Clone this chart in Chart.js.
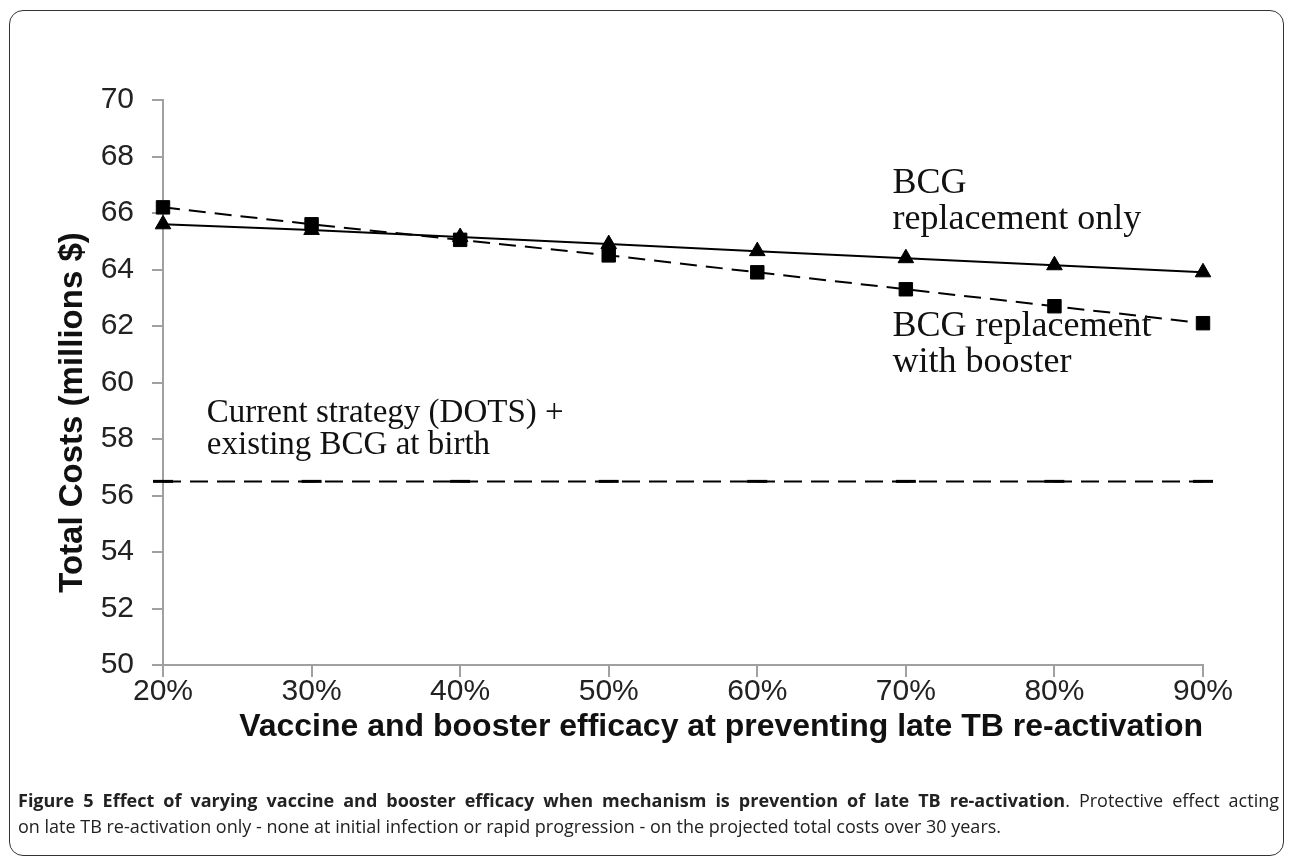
<!DOCTYPE html>
<html>
<head>
<meta charset="utf-8">
<script src="https://cdn.jsdelivr.net/npm/chart.js@4.4.1/dist/chart.umd.min.js"></script>
<style>
  html, body { margin: 0; padding: 0; background: #fff; }
  body { width: 1290px; height: 861px; position: relative; overflow: hidden; }
  #frame {
    position: absolute; left: 9px; top: 10px; width: 1275px; height: 846px;
    border: 1.5px solid #333; border-radius: 14px; box-sizing: border-box;
  }
  #chartBox { position: absolute; left: 0; top: 0; width: 1290px; height: 861px; }
  #caption {
    position: absolute; left: 18px; top: 787px; width: 1261px;
    font-family: "Open Sans", sans-serif; font-size: 18px; line-height: 26px; color: #222;
  }
  #caption .l1 { text-align: justify; text-align-last: justify; white-space: nowrap; }
  #caption b { font-weight: 700; }
</style>
</head>
<body>
<div id="frame"></div>
<div id="chartBox"><canvas id="costChart" width="1290" height="861"></canvas></div>
<div id="caption">
  <div class="l1"><b>Figure 5 Effect of varying vaccine and booster efficacy when mechanism is prevention of late TB re-activation</b>. Protective effect acting</div>
  <div>on late TB re-activation only - none at initial infection or rapid progression - on the projected total costs over 30 years.</div>
</div>
<script>
// Data
const efficacy = [20, 30, 40, 50, 60, 70, 80, 90];
const replacementOnly = [65.6, 65.4, 65.15, 64.9, 64.65, 64.4, 64.15, 63.9];
const replacementBooster = [66.2, 65.6, 65.05, 64.5, 63.9, 63.3, 62.7, 62.1];
const currentStrategy = [56.5, 56.5, 56.5, 56.5, 56.5, 56.5, 56.5, 56.5];
const yTicks = [50, 52, 54, 56, 58, 60, 62, 64, 66, 68, 70];

const toPoints = (vals) => vals.map((v, i) => ({ x: efficacy[i], y: v }));

// Text labels placed in data units
const notes = [
  { x: 69.1, y: 67.03, size: 36, text: 'BCG' },
  { x: 69.1, y: 65.78, size: 36, text: 'replacement only' },
  { x: 69.1, y: 61.97, size: 36, text: 'BCG replacement' },
  { x: 69.1, y: 60.72, size: 36, text: 'with booster' },
  { x: 22.95, y: 58.92, size: 33, text: 'Current strategy (DOTS) +' },
  { x: 22.95, y: 57.77, size: 33, text: 'existing BCG at birth' }
];

const notesPlugin = {
  id: 'notes',
  afterDatasetsDraw(chart) {
    const { ctx, chartArea, scales: { x, y } } = chart;
    ctx.save();
    ctx.fillStyle = '#111';
    ctx.textAlign = 'left';
    ctx.textBaseline = 'middle';
    notes.forEach(n => {
      ctx.font = n.size + 'px "Liberation Serif", "Times New Roman", serif';
      ctx.fillText(n.text, x.getPixelForValue(n.x), y.getPixelForValue(n.y));
    });
    // y axis title, sits a bit below the middle of the axis in the original
    ctx.font = 'bold 33px "Liberation Sans", Arial, sans-serif';
    ctx.textAlign = 'center';
    ctx.translate(chartArea.left - 90, (chartArea.top + chartArea.bottom) / 2 + 30);
    ctx.rotate(-Math.PI / 2);
    ctx.fillText('Total Costs (millions $)', 0, 0);
    ctx.restore();
  }
};

const axisGray = '#a0a0a0';
const tickFont = { family: '"Liberation Sans", Arial, sans-serif', size: 30 };

const ctx = document.getElementById('costChart').getContext('2d');
const costChart = new Chart(ctx, {
  type: 'line',
  data: {
    datasets: [
      {
        label: 'BCG replacement only',
        data: toPoints(replacementOnly),
        borderColor: '#000',
        backgroundColor: '#000',
        borderWidth: 2,
        pointStyle: 'triangle',
        pointRadius: 9,
        pointBorderWidth: 1,
        clip: false
      },
      {
        label: 'BCG replacement with booster',
        data: toPoints(replacementBooster),
        borderColor: '#000',
        backgroundColor: '#000',
        borderWidth: 2,
        borderDash: [17, 9],
        pointStyle: 'rect',
        pointRadius: 9.5,
        pointBorderWidth: 1,
        clip: false
      },
      {
        label: 'Current strategy (DOTS) + existing BCG at birth',
        data: toPoints(currentStrategy),
        borderColor: '#000',
        backgroundColor: '#000',
        borderWidth: 2,
        borderDash: [18, 9],
        pointStyle: 'line',
        pointRadius: 10,
        pointBorderWidth: 3,
        clip: false
      }
    ]
  },
  options: {
    responsive: false,
    animation: false,
    events: [],
    layout: { padding: { top: 100, right: 87, bottom: 114, left: 0 } },
    plugins: {
      legend: { display: false },
      tooltip: { enabled: false }
    },
    scales: {
      x: {
        type: 'linear',
        min: 20,
        max: 90,
        afterFit: (scale) => { scale.height = 82; },
        afterBuildTicks: (scale) => { scale.ticks = efficacy.map(v => ({ value: v })); },
        ticks: {
          font: tickFont,
          color: '#222',
          padding: -3,
          maxRotation: 0,
          callback: (v) => v + '%'
        },
        grid: { drawOnChartArea: false, drawTicks: true, tickLength: 12, color: axisGray, lineWidth: 2 },
        border: { color: axisGray, width: 2 },
        title: {
          display: true,
          align: 'end',
          text: 'Vaccine and booster efficacy at preventing late TB re-activation',
          font: { family: '"Liberation Sans", Arial, sans-serif', size: 32, weight: 'bold' },
          color: '#111',
          padding: { top: 0, bottom: 1 }
        }
      },
      y: {
        min: 50,
        max: 70,
        afterFit: (scale) => { scale.width = 163; },
        afterBuildTicks: (scale) => { scale.ticks = yTicks.map(v => ({ value: v })); },
        ticks: { font: tickFont, color: '#222', padding: 18 },
        grid: { drawOnChartArea: false, drawTicks: true, tickLength: 11, color: axisGray, lineWidth: 2 },
        border: { color: axisGray, width: 2 }
      }
    }
  },
  plugins: [notesPlugin]
});
</script>
</body>
</html>
